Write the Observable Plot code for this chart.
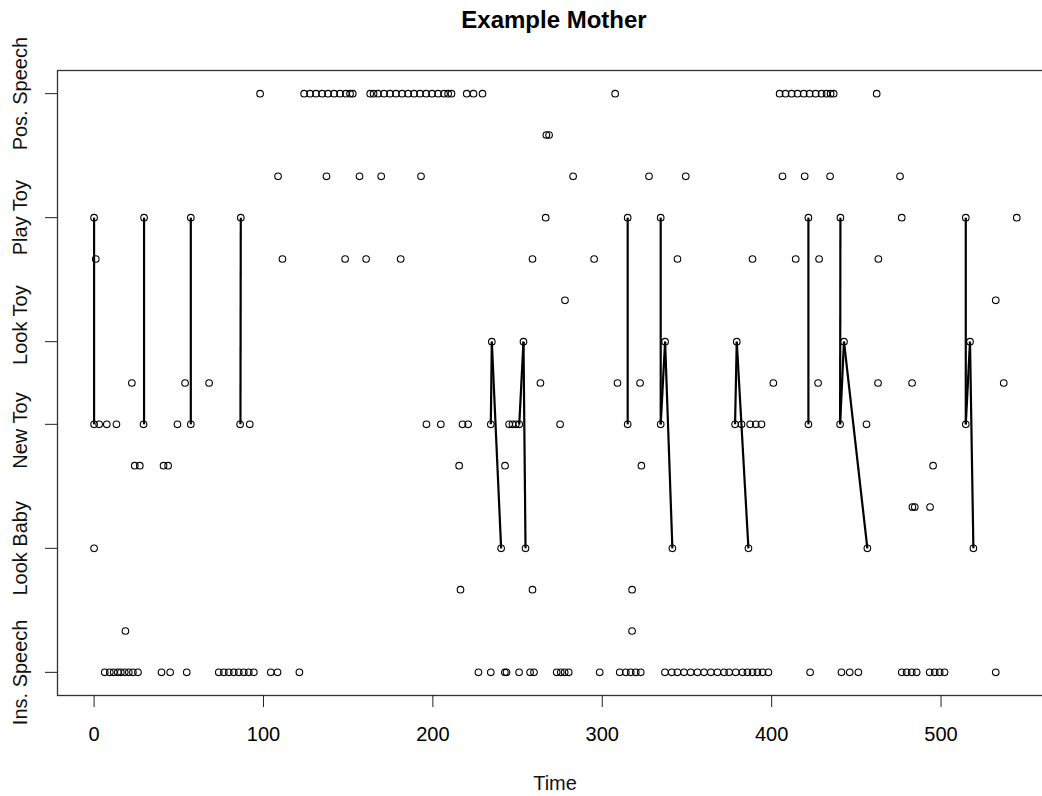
<!DOCTYPE html>
<html>
<head>
<meta charset="utf-8">
<script src="https://cdn.jsdelivr.net/npm/d3@7"></script>
<script src="https://cdn.jsdelivr.net/npm/@observablehq/plot@0.6"></script>
<style>
  html, body { margin: 0; padding: 0; background: #fff; overflow: hidden; }
  #wrap { position: relative; width: 1062px; height: 796px; }
  #title { position: absolute; top: 0; left: 0; height: 40px; line-height: 40px; width: 1108px; text-align: center;
           font-family: "Liberation Sans", Arial, Helvetica, sans-serif; font-weight: bold; font-size: 24px; color: #000; z-index: 2; }
  #chart { position: absolute; top: 0; left: 0; }
  #chart svg { display: block; }
</style>
</head>
<body>
<div id="wrap">
  <div id="chart"></div>
  <div id="title">Example Mother</div>
</div>
<script>
// Y axis tick positions (code levels), their labels and label centres
const yTickValues = [0, 3, 6, 8, 11, 14];
const yTickLabels = ["Ins. Speech", "Look Baby", "New Toy", "Look Toy", "Play Toy", "Pos. Speech"];
const yLabelPos = [0, 3, 5.85, 8.4, 11, 14];
const xTicks = [0, 100, 200, 300, 400, 500];

// Event times observed at each code level
const level0 = [6.3, 9.3, 11.6, 14, 15.8, 18.1, 20.5, 22.9, 25.9, 39.8, 44.9, 54.7, 73.6, 76.6, 79.5, 82.5, 85.4, 88.4, 91.3, 94.3, 104.3, 108.3, 121.2, 226.9, 234.2, 242.5, 243.5, 250.9, 257.4, 259.7, 273.1, 275.5, 277.8, 280.2, 298.5, 310.3, 313.9, 316.8, 319.8, 322.7, 337, 341, 344.4, 348.3, 352.2, 356.2, 360.1, 364.1, 368, 371.9, 374.9, 378.8, 382.8, 385.7, 388.7, 391.6, 394.6, 398.1, 422.7, 441.2, 446.1, 451.2, 476.8, 479.7, 482.7, 485.6, 493.3, 496.3, 499.2, 502.1, 532.3];
const level1 = [18.5, 317.6];
const level2 = [216.3, 258.8, 317.6];
const level3 = [0, 240.3, 254.7, 341.4, 386.3, 456.5, 519.1];
const level4 = [483.1, 484.5, 493.5];
const level5 = [24, 27, 41, 43.7, 215.5, 242.6, 323.1, 495.3];
const level6 = [0, 3, 7.5, 13.2, 29.2, 49.2, 57.1, 86.2, 91.9, 196.2, 204.7, 217.5, 220.8, 234.2, 245, 247, 249, 251, 275.1, 315, 334.5, 378.4, 382.2, 387.3, 390.6, 394, 421.7, 440.4, 456, 514.6];
const level7 = [22.3, 53.7, 67.9, 263.5, 309, 322.3, 401, 427.4, 462.8, 482.9, 537];
const level8 = [234.8, 253.5, 337.1, 379.4, 442.7, 517.1];
const level9 = [278, 532.3];
const level10 = [1, 111.2, 148.2, 160.6, 181, 258.8, 295.2, 344.4, 388.7, 414.2, 428, 463];
const level11 = [0, 29.5, 57.1, 86.6, 266.6, 315, 334.5, 421.7, 440.6, 476.8, 514.6, 544.7];
const level12 = [108.6, 137.2, 156.7, 169.5, 193, 282.8, 327.6, 349.3, 406.4, 419.5, 434.5, 475.8];
const level13 = [267, 268.6];
const level14 = [98, 124, 127.5, 131, 134.6, 138.1, 141.7, 145.2, 148.6, 151.1, 152.7, 163, 165, 167.6, 171.2, 174.7, 178.2, 181.8, 185.4, 188.9, 192.4, 196, 199.5, 203.1, 206.6, 209, 211, 220, 224, 229.3, 307.6, 404.7, 408.2, 411.8, 415.3, 418.9, 422.4, 426, 429.5, 432.4, 434.8, 436.6, 462];

// Connecting segments
const segX1 = [0, 29.5, 57.1, 86.6, 234.8, 234.8, 253.5, 253.5, 315, 334.5, 337.1, 337.1, 379.4, 379.4, 421.7, 440.6, 442.7, 442.7, 514.6, 517.1, 517.1];
const segY1 = [11, 11, 11, 11, 8, 8, 8, 8, 11, 11, 8, 8, 8, 8, 11, 11, 8, 8, 11, 8, 8];
const segX2 = [0, 29.5, 57.1, 86.4, 234.2, 240.3, 251, 254.7, 315, 334.5, 334.5, 341.4, 378.4, 386.3, 421.7, 440.4, 440.4, 456.5, 514.6, 514.6, 519.1];
const segY2 = [6, 6, 6, 6, 6, 3, 6, 3, 6, 6, 6, 3, 6, 3, 6, 6, 6, 3, 6, 6, 3];

const levels = [level0, level1, level2, level3, level4, level5, level6, level7, level8, level9, level10, level11, level12, level13, level14];
const points = [];
levels.forEach((arr, lv) => arr.forEach(t => points.push({time: t, code: lv})));
const segs = segX1.map((x1, i) => ({x1, y1: segY1[i], x2: segX2[i], y2: segY2[i]}));

const chart = Plot.plot({
  width: 1062,
  height: 796,
  marginLeft: 57,
  marginRight: 10,
  marginTop: 70,
  marginBottom: 101,
  style: {fontFamily: "'Liberation Sans', Arial, Helvetica, sans-serif", fontSize: "20px", background: "#fff", color: "#000"},
  x: {domain: [-21.6, 565.8]},
  y: {domain: [-0.56, 14.56]},
  marks: [
    Plot.frame({stroke: "#333", strokeWidth: 1.3}),
    Plot.axisX({ticks: xTicks, tickSize: 12, tickPadding: 19, fontSize: 20, label: null, stroke: "#222"}),
    Plot.axisY({ticks: yTickValues, tickSize: 12, tickFormat: () => "", label: null, stroke: "#222"}),
    Plot.text(yLabelPos, {y: d => d, text: (d, i) => yTickLabels[i], frameAnchor: "left", rotate: -90, dx: -37, textAnchor: "middle", lineAnchor: "middle", fontSize: 20, fill: "#111"}),
    Plot.text(["Time"], {text: d => d, frameAnchor: "bottom", dy: 88, lineAnchor: "middle", fontSize: 20, fill: "#111"}),
    Plot.link(segs, {x1: "x1", y1: "y1", x2: "x2", y2: "y2", stroke: "#000", strokeWidth: 2.2}),
    Plot.dot(points, {x: "time", y: "code", r: 3.3, stroke: "#000", fill: "none", strokeWidth: 1.1})
  ]
});
document.getElementById("chart").appendChild(chart);
</script>
</body>
</html>
